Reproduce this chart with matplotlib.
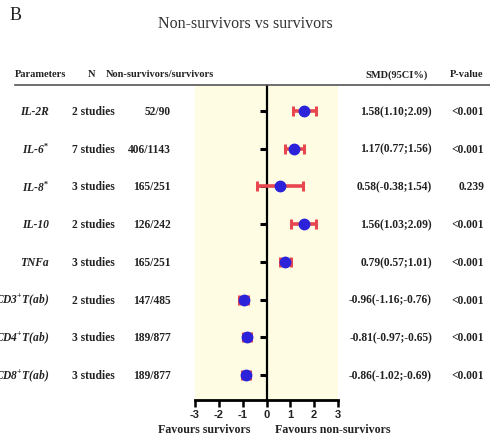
import numpy as np
import matplotlib
matplotlib.use('Agg')
import matplotlib.pyplot as plt
from matplotlib import transforms
from matplotlib.lines import Line2D

plt.rcParams['mathtext.fontset'] = 'custom'
plt.rcParams['mathtext.rm'] = 'Liberation Serif:bold'
plt.rcParams['mathtext.it'] = 'Liberation Serif:bold:italic'

# data
params = ['IL-2R', 'IL-6$^{*}$', 'IL-8$^{*}$', 'IL-10', 'TNFa',
          'CD3$^{+}$T(ab)', 'CD4$^{+}$T(ab)', 'CD8$^{+}$T(ab)']
n_studies = ['2 studies', '7 studies', '3 studies', '2 studies', '3 studies',
             '2 studies', '3 studies', '3 studies']
counts = ['52/90', '406/1143', '165/251', '126/242', '165/251',
          '147/485', '189/877', '189/877']
smd = [1.58, 1.17, 0.58, 1.56, 0.79, -0.96, -0.81, -0.86]
lower = [1.10, 0.77, -0.38, 1.03, 0.57, -1.16, -0.97, -1.02]
upper = [2.09, 1.56, 1.54, 2.09, 1.01, -0.76, -0.65, -0.69]
pvals = ['<0.001', '<0.001', '0.239', '<0.001', '<0.001',
         '<0.001', '<0.001', '<0.001']
xticks = [-3, -2, -1, 0, 1, 2, 3]

W, H = 490, 439
fig = plt.figure(figsize=(W / 100, H / 100), dpi=100)
ax = fig.add_axes([195 / W, 1 - 400.7 / H, 143 / W, 313.7 / H])
ax.set_facecolor('#fefde4')

smd = np.array(smd)
lower = np.array(lower)
upper = np.array(upper)
ypos = np.arange(len(smd), 0, -1)

ax.errorbar(smd, ypos, xerr=[smd - lower, upper - smd], fmt='none',
            ecolor='#e8474f', elinewidth=2.6, capsize=3.5, capthick=2.2, zorder=3)
ax.plot(smd, ypos, 'o', color='#2b22d9', markersize=7.5, zorder=4)

ax.set_xlim(-3, 3)
ax.set_ylim(0.345, 8.66)
ax.spines['top'].set_visible(False)
ax.spines['right'].set_visible(False)
ax.spines['left'].set_position(('data', 0))
ax.spines['left'].set_linewidth(1.6)
ax.spines['bottom'].set_linewidth(2)
ax.set_yticks(ypos)
ax.set_yticklabels([])
ax.tick_params(axis='y', direction='out', length=5, width=2.2)
ax.set_xticks(xticks)
ax.set_xticklabels([str(t) for t in xticks], fontfamily='Liberation Sans',
                   fontweight='bold', fontsize=8, color='#222222')
ax.tick_params(axis='x', direction='out', length=5, width=1.8, pad=2)

# table text
trans = transforms.blended_transform_factory(fig.transFigure, ax.transData)
serif = dict(fontfamily='Liberation Serif', fontweight='bold', fontsize=8.3,
             color='#222222', va='center')
for i, y in enumerate(ypos):
    ax.text(49 / W, y, params[i], transform=trans, ha='right', style='italic', **serif)
    ax.text(93 / W, y, n_studies[i], transform=trans, ha='center', **serif)
    ax.text(171 / W, y, counts[i], transform=trans, ha='right', **serif)
    ax.text(432 / W, y, '%.2f(%.2f;%.2f)' % (smd[i], lower[i], upper[i]),
            transform=trans, ha='right', **serif)
    ax.text(484 / W, y, pvals[i], transform=trans, ha='right', **serif)

hdr = dict(fontfamily='Liberation Serif', fontweight='bold', fontsize=7.5,
           color='#222222', va='center')
hy = 1 - 75 / H
fig.text(15 / W, hy, 'Parameters', ha='left', **hdr)
fig.text(91.5 / W, hy, 'N', ha='center', **hdr)
fig.text(106 / W, hy, 'Non-survivors/survivors', ha='left', **hdr)
fig.text(396.5 / W, hy, 'SMD(95CI%)', ha='center', **hdr)
fig.text(467 / W, hy, 'P-value', ha='center', **hdr)
fig.add_artist(Line2D([15 / W, 1], [1 - 86 / H, 1 - 86 / H], transform=fig.transFigure,
                      color='#555555', lw=1.2))

fig.text(245.5 / W, 1 - 24 / H, 'Non-survivors vs survivors', ha='center', va='center',
         fontfamily='Liberation Serif', fontsize=11.5, color='#333333')
fig.text(10 / W, 1 - 15 / H, 'B', ha='left', va='center',
         fontfamily='Liberation Serif', fontsize=13, color='#222222')

fav = dict(fontfamily='Liberation Serif', fontweight='bold', fontsize=8.6,
           color='#222222', va='center', ha='center')
fig.text(204.5 / W, 1 - 430 / H, 'Favours survivors', **fav)
fig.text(333 / W, 1 - 430 / H, 'Favours non-survivors', **fav)

fig.savefig('out.png', dpi=100)
